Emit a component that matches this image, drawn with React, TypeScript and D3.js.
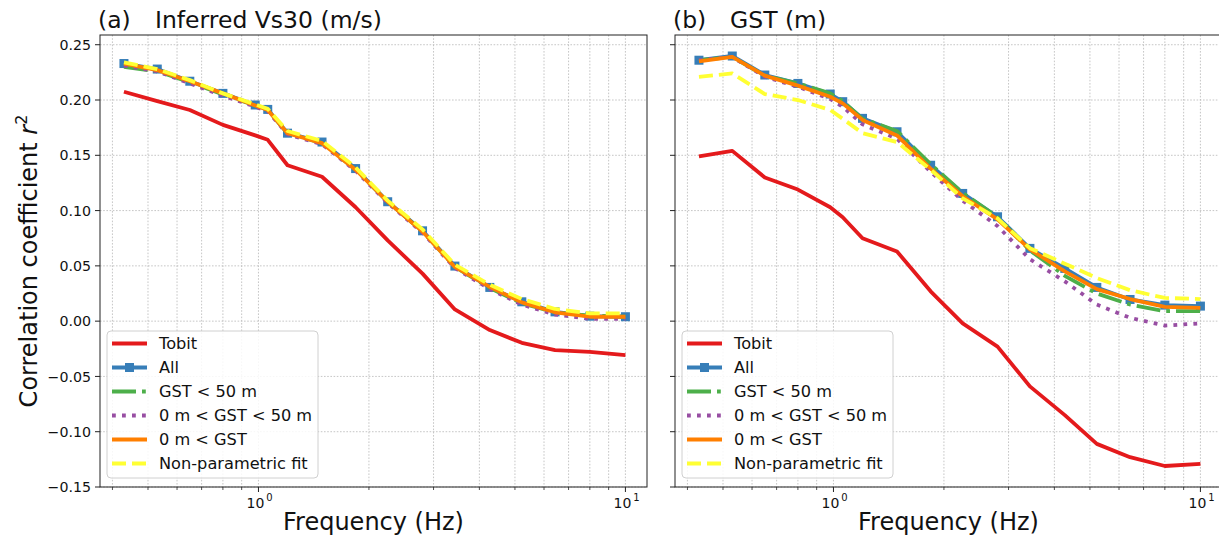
import React from "react";
import * as d3 from "d3";

// frequencies (Hz) shared by both panels
const freqs = [0.43, 0.53, 0.65, 0.8, 0.98, 1.06, 1.2, 1.49, 1.84, 2.25, 2.8, 3.43, 4.27, 5.22, 6.43, 8.0, 10.0];

// panel (a) Inferred Vs30
const tobitA = [0.2075, 0.199, 0.191, 0.1775, 0.168, 0.164, 0.141, 0.1306, 0.103, 0.073, 0.043, 0.0106, -0.0081, -0.0196, -0.0262, -0.0278, -0.0308];
const allA = [0.233, 0.228, 0.217, 0.206, 0.1955, 0.1915, 0.17, 0.162, 0.138, 0.108, 0.0817, 0.0498, 0.0305, 0.0175, 0.0084, 0.0045, 0.004];
const gstLt50A = [0.23, 0.226, 0.216, 0.205, 0.195, 0.191, 0.17, 0.161, 0.137, 0.108, 0.081, 0.049, 0.03, 0.016, 0.008, 0.005, 0.004];
const gst0to50A = [0.231, 0.226, 0.215, 0.204, 0.194, 0.19, 0.169, 0.16, 0.136, 0.107, 0.08, 0.048, 0.029, 0.015, 0.006, 0.002, 0.002];
const gstGt0A = [0.233, 0.227, 0.217, 0.206, 0.195, 0.191, 0.17, 0.161, 0.137, 0.108, 0.081, 0.049, 0.031, 0.017, 0.008, 0.004, 0.004];
const nonParA = [0.234, 0.228, 0.218, 0.206, 0.196, 0.192, 0.172, 0.163, 0.139, 0.109, 0.083, 0.051, 0.033, 0.02, 0.011, 0.007, 0.007];

// panel (b) GST
const tobitB = [0.149, 0.154, 0.13, 0.119, 0.103, 0.094, 0.075, 0.063, 0.027, -0.002, -0.023, -0.059, -0.085, -0.111, -0.123, -0.131, -0.129];
const allB = [0.236, 0.2398, 0.2226, 0.215, 0.2054, 0.1985, 0.1834, 0.1713, 0.141, 0.1155, 0.0944, 0.0658, 0.0477, 0.0305, 0.0196, 0.0145, 0.0136];
const gstLt50B = [0.236, 0.239, 0.222, 0.215, 0.206, 0.199, 0.183, 0.172, 0.142, 0.116, 0.094, 0.064, 0.041, 0.025, 0.015, 0.009, 0.009];
const gst0to50B = [0.236, 0.239, 0.221, 0.212, 0.201, 0.194, 0.178, 0.165, 0.135, 0.109, 0.086, 0.056, 0.036, 0.015, 0.003, -0.004, -0.002];
const gstGt0B = [0.235, 0.239, 0.222, 0.213, 0.203, 0.197, 0.182, 0.168, 0.138, 0.113, 0.092, 0.065, 0.045, 0.029, 0.02, 0.013, 0.012];
const nonParB = [0.221, 0.224, 0.2054, 0.2, 0.191, 0.183, 0.17, 0.162, 0.137, 0.111, 0.093, 0.066, 0.052, 0.039, 0.028, 0.021, 0.02];

const legendLabels = ["Tobit", "All", "GST < 50 m", "0 m < GST < 50 m", "0 m < GST", "Non-parametric fit"];
const yTicks = [-0.15, -0.1, -0.05, 0.0, 0.05, 0.1, 0.15, 0.2, 0.25];
const xMajor = [1, 10];

const styles = [
  { color: "#e41a1c", dash: null, marker: false },
  { color: "#377eb8", dash: null, marker: true },
  { color: "#4daf4a", dash: "24,6,3.8,6", marker: false },
  { color: "#984ea3", dash: "3.8,6.2", marker: false },
  { color: "#ff7f00", dash: null, marker: false },
  { color: "#ffff33", dash: "14,6", marker: false },
];

const W = 1219;
const H = 537;
const top = 35;
const bottom = 487;
const font = "DejaVu Sans, sans-serif";
const lw = 3.8;
const ms = 9;

const y = d3.scaleLinear().domain([-0.15, 0.2588]).range([bottom, top]);

const minorTicks: number[] = [];
[0.1, 1].forEach((d) => {
  for (let k = 2; k <= 9; k++) {
    const v = d * k;
    if (v >= 0.37 && v <= 11.5) minorTicks.push(v);
  }
});

type PanelProps = {
  left: number;
  right: number;
  tag: string;
  title: string;
  series: number[][];
  yLabels: boolean;
};

const Panel = ({ left, right, tag, title, series, yLabels }: PanelProps) => {
  const x = d3.scaleLog().domain([0.37, 11.45]).range([left, right]);
  const line = d3
    .line<number>()
    .x((_, i) => x(freqs[i]))
    .y((d) => y(d));
  const gridStyle = { stroke: "#b8b8b8", strokeWidth: 0.8, strokeDasharray: "1.6,1.6" };
  const lgX = left + 7;
  const lgY = 331;
  return (
    <g>
      {/* grid */}
      {[...xMajor, ...minorTicks].map((t) => (
        <line key={"gx" + t} x1={x(t)} x2={x(t)} y1={top} y2={bottom} {...gridStyle} />
      ))}
      {yTicks.map((t) => (
        <line key={"gy" + t} x1={left} x2={right} y1={y(t)} y2={y(t)} {...gridStyle} />
      ))}

      {/* series */}
      {series.map((s, si) => (
        <g key={"s" + si}>
          <path
            d={line(s) || ""}
            fill="none"
            stroke={styles[si].color}
            strokeWidth={lw}
            strokeDasharray={styles[si].dash || undefined}
            strokeLinejoin="round"
          />
          {styles[si].marker &&
            s.map((v, i) => (
              <rect
                key={i}
                x={x(freqs[i]) - ms / 2}
                y={y(v) - ms / 2}
                width={ms}
                height={ms}
                fill={styles[si].color}
              />
            ))}
        </g>
      ))}

      {/* legend */}
      <rect x={lgX} y={lgY} width={211} height={147} rx={4} fill="white" fillOpacity={0.85} stroke="#d0d0d0" />
      {legendLabels.map((lab, i) => {
        const cy = lgY + 12.5 + i * 24;
        return (
          <g key={"lg" + i}>
            <line
              x1={lgX + 5}
              x2={lgX + 40}
              y1={cy}
              y2={cy}
              stroke={styles[i].color}
              strokeWidth={lw}
              strokeDasharray={styles[i].dash || undefined}
            />
            {styles[i].marker && (
              <rect x={lgX + 22.5 - ms / 2} y={cy - ms / 2} width={ms} height={ms} fill={styles[i].color} />
            )}
            <text x={lgX + 52} y={cy} dy="0.36em" fontSize={16.2} fontFamily={font} fill="#111">
              {lab}
            </text>
          </g>
        );
      })}

      {/* frame */}
      <rect x={left} y={top} width={right - left} height={bottom - top} fill="none" stroke="#222" strokeWidth={1} />

      {/* x ticks */}
      {xMajor.map((t) => (
        <g key={"xt" + t}>
          <line x1={x(t)} x2={x(t)} y1={bottom} y2={bottom + 5} stroke="#222" />
          <text x={x(t) - 3} y={508} textAnchor="middle" fontSize={14} fontFamily={font} fill="#111">
            10
          </text>
          <text x={x(t) + 11} y={501} textAnchor="middle" fontSize={10} fontFamily={font} fill="#111">
            {Math.round(Math.log10(t))}
          </text>
        </g>
      ))}
      {minorTicks.map((t) => (
        <line key={"xm" + t} x1={x(t)} x2={x(t)} y1={bottom} y2={bottom + 3} stroke="#222" strokeWidth={0.8} />
      ))}

      {/* y ticks */}
      {yTicks.map((t) => (
        <g key={"yt" + t}>
          <line x1={left - 5} x2={left} y1={y(t)} y2={y(t)} stroke="#222" />
          {yLabels && (
            <text x={left - 9} y={y(t)} dy="0.36em" textAnchor="end" fontSize={14.2} fontFamily={font} fill="#111">
              {d3.format(".2f")(t).replace("-", "\u2212")}
            </text>
          )}
        </g>
      ))}

      {/* title */}
      <text x={left - 2} y={28} fontSize={23.5} fontFamily={font} fill="#111">
        {tag}
      </text>
      <text x={left + 55} y={28} fontSize={23.5} fontFamily={font} fill="#111">
        {title}
      </text>

      {/* x label */}
      <text x={(left + right) / 2} y={530} textAnchor="middle" fontSize={24} fontFamily={font} fill="#111">
        Frequency (Hz)
      </text>
    </g>
  );
};

export default function App() {
  return (
    <div style={{ position: "absolute", left: 0, top: 0 }}>
      <style>{`body{margin:0}`}</style>
      <svg width={W} height={H} style={{ display: "block", background: "white" }}>
        <Panel
          left={100}
          right={647}
          tag="(a)"
          title="Inferred Vs30 (m/s)"
          series={[tobitA, allA, gstLt50A, gst0to50A, gstGt0A, nonParA]}
          yLabels={true}
        />
        <Panel
          left={675}
          right={1222}
          tag="(b)"
          title="GST (m)"
          series={[tobitB, allB, gstLt50B, gst0to50B, gstGt0B, nonParB]}
          yLabels={false}
        />
        <text
          transform="translate(37,261) rotate(-90)"
          textAnchor="middle"
          fontSize={24}
          fontFamily={font}
          fill="#111"
        >
          Correlation coefficient <tspan fontStyle="italic">r</tspan>
          <tspan fontSize={16} dy={-10}>2</tspan>
        </text>
      </svg>
    </div>
  );
}
